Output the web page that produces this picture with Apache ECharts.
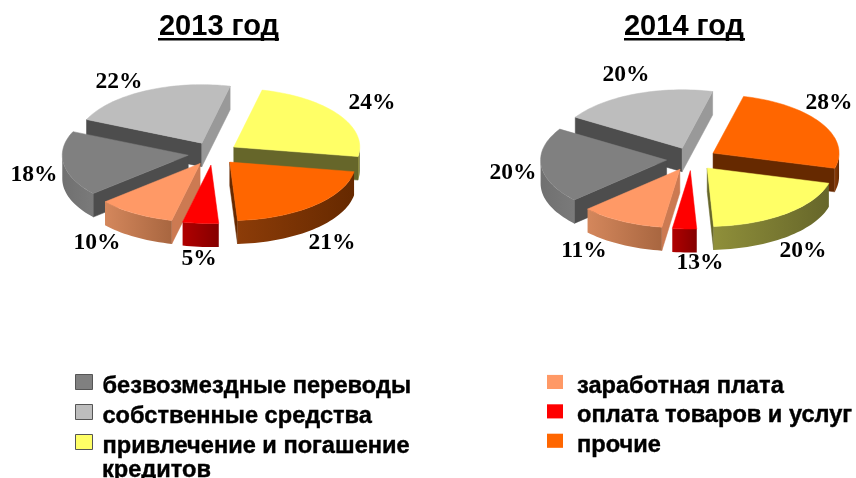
<!DOCTYPE html>
<html><head><meta charset="utf-8">
<style>html,body{margin:0;padding:0;background:#fff}#c{width:856px;height:478px}</style>
<script src="https://cdn.jsdelivr.net/npm/echarts@6/dist/echarts.min.js"></script>
</head><body><div id="c"></div>
<script>
// ---- data ----
const years = ['2013 год', '2014 год'];
const categories = ['безвозмездные переводы', 'собственные средства', 'привлечение и погашение кредитов', 'заработная плата', 'оплата товаров и услуг', 'прочие'];
// slice sizes as read from the drawn sweeps (the printed 2014 labels sum to 112, so they cannot size the slices)
const values2013 = [18, 22, 24, 10, 4.6, 21.4];
const values2014 = [20.8, 20, 20, 10.8, 3.1, 25.3];
// percentages as printed beside the slices
const labels2013 = ['18%', '22%', '24%', '10%', '5%', '21%'];
const labels2014 = ['20%', '20%', '20%', '11%', '13%', '28%'];
// clockwise slice order from the start angle, by category index
const order2013 = [2, 5, 4, 3, 0, 1];
const order2014 = [5, 2, 4, 3, 0, 1];

// ---- layout / style ----
const pies = [
  {cx: 213, cy: 153.5, start: 13, values: values2013, labels: labels2013, order: order2013, paint: [1, 2, 0, 5, 3, 4],
   labelPos: [[34,175],[119,82],[372,103],[97,243],[199,259],[332,243]]},
  {cx: 691.5, cy: 159, start: 14, values: values2014, labels: labels2014, order: order2014, paint: [1, 5, 0, 2, 3, 4],
   labelPos: [[513,173],[626,75],[803,251],[584,251],[700,263],[829,103]]}
];
const RX = 126, K = 0.464, EXPLODE = 25, DEPTH = 23.5;
const topColors = ['#808080', '#BDBDBD', '#FFFF66', '#FF9966', '#FF0000', '#FF6600'];
const bandColors = {start: ['#4D4D4D', '#4D4D4D', '#66662A', '#CC7A52', '#800000', '#662900'],
                    end:   ['#4D4D4D', '#999999', '#66662A', '#CC7A52', '#800000', '#662900']};
const wallColors = [['#707070','#7A7A7A'], ['#999999','#999999'], ['#8F8F3A','#66662A'], ['#D4875C','#A86640'], ['#B00000','#850000'], ['#8C3C08','#662900']];

function cumStarts(p) {
  const total = p.values.reduce((a, b) => a + b, 0), res = {};
  let a = p.start;
  p.order.forEach(i => { const s = p.values[i] / total * 360; res[i] = [a, a + s]; a += s; });
  return res;
}
const pt = (c, r, deg) => { const t = deg * Math.PI / 180; return [c[0] + r * Math.sin(t), c[1] - r * K * Math.cos(t)]; };
const down = (q) => [q[0], q[1] + DEPTH];
function arc(c, a, b) { const out = [], n = Math.max(2, Math.ceil(Math.abs(b - a) / 2)); for (let i = 0; i <= n; i++) out.push(pt(c, RX, a + (b - a) * i / n)); return out; }

function renderSlice(cat, yearIdx) {
  const p = pies[yearIdx];
  const [a, b] = cumStarts(p)[cat];
  const mid = (a + b) / 2;
  const c = pt([p.cx, p.cy], EXPLODE, mid);
  const z = p.paint.indexOf(cat) * 10 + 1;
  const kids = [];
  const poly = (points, fill, dz) => kids.push({type: 'polygon', z2: z + dz, shape: {points}, style: {fill, stroke: typeof fill === 'string' ? fill : null, lineWidth: 0.5}});
  if (Math.sin(a * Math.PI / 180) < 0) { const q = pt(c, RX, a); poly([c, q, down(q), down(c)], bandColors.start[cat], 0); }
  if (Math.sin(b * Math.PI / 180) > 0) { const q = pt(c, RX, b); poly([c, q, down(q), down(c)], bandColors.end[cat], 0); }
  const la = Math.max(a, 90), lb = Math.min(b, 270);
  if (lb > la) {
    const top = arc(c, la, lb);
    poly(top.concat(top.slice().reverse().map(down)),
      new echarts.graphic.LinearGradient(0, 0, 1, 0, [{offset: 0, color: wallColors[cat][0]}, {offset: 1, color: wallColors[cat][1]}]), 1);
  }
  poly([c].concat(arc(c, a, b)), topColors[cat], 2);
  const lp = p.labelPos[cat];
  kids.push({type: 'text', z2: 200, style: {text: p.labels[cat], x: lp[0], y: lp[1], fill: '#000', align: 'center', verticalAlign: 'middle', font: 'bold 23.5px "Liberation Serif"'}});
  return {type: 'group', children: kids};
}

const series = categories.map((name, cat) => ({
  type: 'custom', name, coordinateSystem: 'none', silent: true, animation: false,
  itemStyle: {color: topColors[cat]},
  data: [[0, values2013[cat]], [1, values2014[cat]]],
  renderItem: (params, api) => renderSlice(cat, api.value(0))
}));

// the icon path carries an empty point below the swatch so the swatch sits higher than the text's middle
const legendIcon = 'path://M0,0H17V15H0Z M0,24L0,24';
const legendText = (pad) => ({fontFamily: '"Liberation Sans"', fontWeight: 'bold', fontSize: 23.6, color: '#000', textBorderColor: '#000', textBorderWidth: 0.4, padding: [0, 0, 0, pad]});
const legendBase = {orient: 'vertical', icon: legendIcon, itemWidth: 17, itemHeight: 24, itemGap: 5, selectedMode: false, padding: 0, itemStyle: {borderWidth: 0}};
const chart = echarts.init(document.getElementById('c'), null, {renderer: 'canvas'});
chart.setOption({
  backgroundColor: '#fff', animation: false,
  title: years.map((t, i) => ({text: t, left: [219, 684][i], top: 12, textAlign: 'center', padding: 0,
    textStyle: {fontFamily: '"Liberation Sans"', fontWeight: 'bold', fontSize: 29, color: '#000'}})),
  legend: [
    Object.assign({}, legendBase, {left: 75, top: 374, textStyle: legendText(5), itemStyle: {borderColor: '#555', borderWidth: 1}, data: categories.slice(0, 3),
      formatter: n => n.replace(' кредитов', '')}),
    Object.assign({}, legendBase, {left: 547, top: 374, itemWidth: 16, textStyle: legendText(9), data: categories.slice(3)})
  ],
  graphic: [
    {type: 'rect', shape: {x: 158, y: 38, width: 121, height: 2.5}, style: {fill: '#000'}},
    {type: 'rect', shape: {x: 624, y: 38, width: 121, height: 2.5}, style: {fill: '#000'}},
    {type: 'text', style: {text: 'кредитов', x: 102, y: 470, verticalAlign: 'middle', fill: '#000', stroke: '#000', lineWidth: 0.4, font: 'bold 23.6px "Liberation Sans"'}}
  ],
  series
});
</script></body></html>
